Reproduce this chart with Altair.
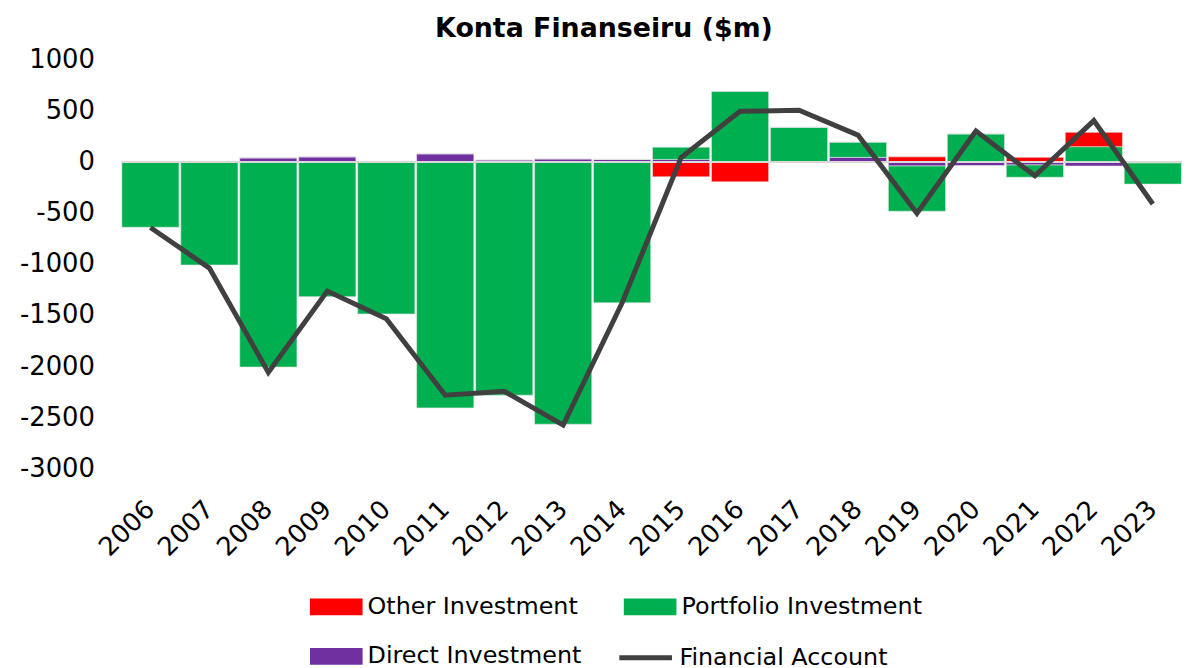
import altair as alt
import pandas as pd

years = [str(y) for y in range(2006, 2024)]
direct_inv = [0, 0, 40, 50, 0, 80, 20, 30, 25, 25, 0, 0, 45, -40, -35, -30, -40, -10]
portfolio_inv = [-640, -1010, -2010, -1320, -1490, -2410, -2285, -2570, -1380, 120, 690, 340, 150, -443, 275, -120, 150, -207]
other_inv = [0, 0, 0, 0, 0, 0, 0, 0, 0, -146, -195, 0, 0, 50, 0, 45, 140, 0]
financial_acc = [-642, -1040, -2062, -1265, -1537, -2286, -2247, -2578, -1380, 42, 496, 506, 263, -503, 302, -136, 405, -412]

series_names = ["Other Investment", "Portfolio Investment", "Direct Investment"]
series_colors = ["#FF0000", "#00B050", "#7030A0"]

rows = []
for i, y in enumerate(years):
    rows.append({"year": y, "series": "Direct Investment", "value": direct_inv[i], "ord": 0})
    rows.append({"year": y, "series": "Portfolio Investment", "value": portfolio_inv[i], "ord": 1})
    rows.append({"year": y, "series": "Other Investment", "value": other_inv[i], "ord": 2})
bars_df = pd.DataFrame(rows)
line_df = pd.DataFrame({"year": years, "value": financial_acc, "series": ["Financial Account"] * len(years)})
zero_df = pd.DataFrame({"value": [0]})

FONT = "DejaVu Sans"

x_enc = alt.X(
    "year:N",
    sort=years,
    scale=alt.Scale(paddingInner=0.03, paddingOuter=0.01),
    axis=alt.Axis(
        title=None, labelAngle=-45, labelAlign="right", labelBaseline="middle",
        labelFontSize=26, labelFont=FONT, labelColor="#000000", labelPadding=37,
        domain=False, ticks=False,
    ),
)
y_scale = alt.Scale(domain=[-3000, 1000], nice=False)

bars = alt.Chart(bars_df).mark_bar(stroke="#E8E8E8", strokeWidth=0.6).encode(
    x=x_enc,
    y=alt.Y(
        "value:Q", stack="zero", scale=y_scale,
        axis=alt.Axis(
            title=None, values=list(range(-3000, 1001, 500)), grid=False,
            domain=False, ticks=False, labelFontSize=26, labelFont=FONT,
            labelColor="#000000", labelPadding=27, labelExpr="'' + datum.value",
        ),
    ),
    color=alt.Color(
        "series:N",
        scale=alt.Scale(domain=series_names, range=series_colors),
        legend=alt.Legend(
            title=None, orient="none", legendX=190, legendY=524, direction="horizontal",
            columns=2, symbolType="M-1,-0.32H1V0.32H-1Z", symbolSize=2809,
            symbolStrokeWidth=0, labelFontSize=24, labelFont=FONT, labelColor="#000000",
            labelOffset=5, columnPadding=42, rowPadding=11, padding=0, symbolOpacity=1,
            labelLimit=500,
        ),
    ),
    order=alt.Order("ord:Q"),
)

zero_rule = alt.Chart(zero_df).mark_rule(color="#D9D9D9", strokeWidth=2).encode(
    y=alt.Y("value:Q", scale=y_scale)
)

line = alt.Chart(line_df).mark_line(strokeWidth=5, strokeJoin="miter").encode(
    x=alt.X("year:N", sort=years),
    y=alt.Y("value:Q", scale=y_scale),
    stroke=alt.Stroke(
        "series:N",
        scale=alt.Scale(domain=["Financial Account"], range=["#404040"]),
        legend=alt.Legend(
            title=None, orient="none", legendX=499, legendY=573,
            symbolType="stroke", symbolSize=2809, symbolStrokeWidth=5,
            labelFontSize=24, labelFont=FONT, labelColor="#000000",
            labelOffset=5, padding=0, labelLimit=500,
        ),
    ),
)

chart = alt.layer(bars, zero_rule, line).properties(
    width=1068,
    height=411,
    title=alt.TitleParams(
        "Konta Finanseiru ($m)", font=FONT, fontSize=27, fontWeight="bold",
        color="#000000", anchor="middle", dx=-48, offset=4,
    ),
    autosize=alt.AutoSizeParams(type="none"),
    padding={"left": 114, "top": 50, "right": 1, "bottom": 200},
).configure_view(stroke=None)

chart.save("out.html", embed_options={"renderer": "svg", "actions": False})
